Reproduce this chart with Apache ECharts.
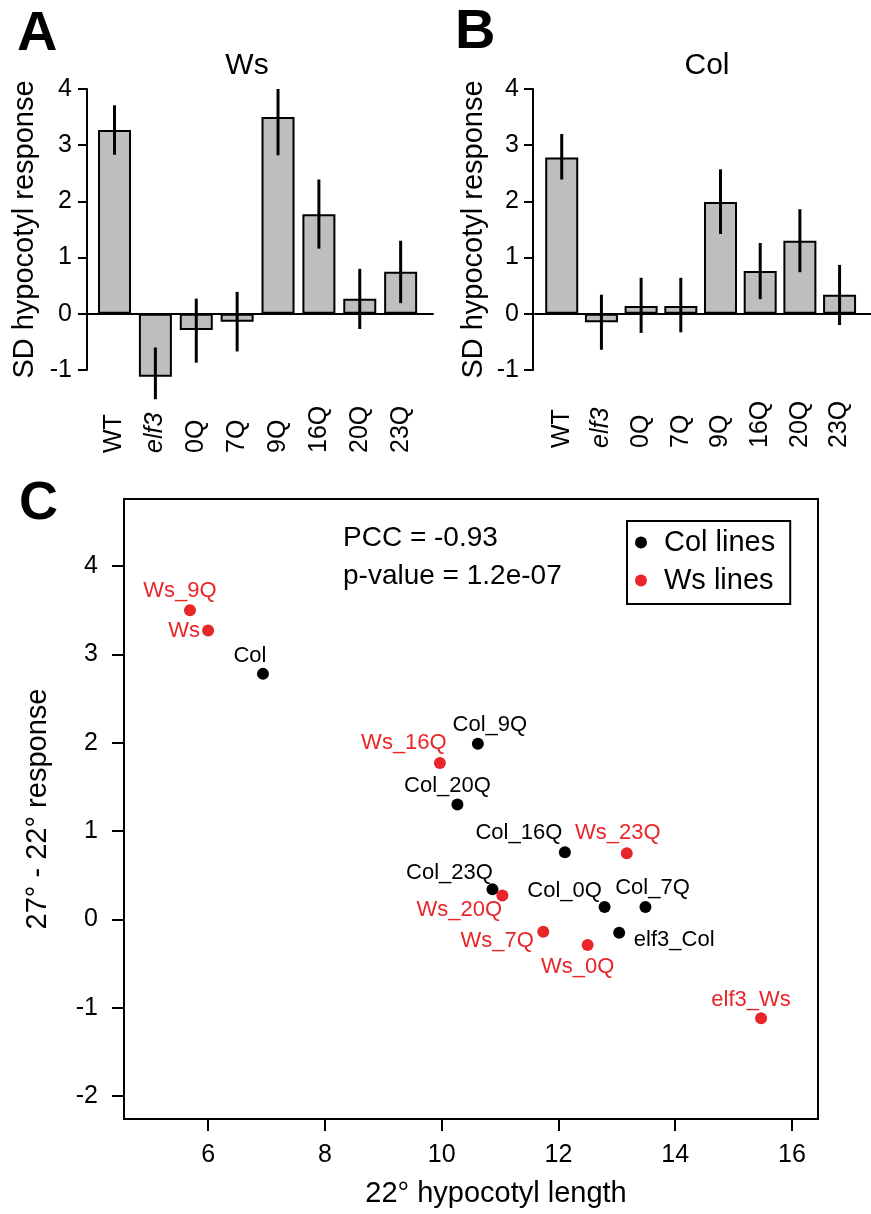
<!DOCTYPE html>
<html>
<head>
<meta charset="utf-8">
<script src="https://cdn.jsdelivr.net/npm/echarts@6/dist/echarts.min.js"></script>
<style>
html,body{margin:0;padding:0;background:#fff;}
#chart{width:871px;height:1214px;}
</style>
</head>
<body>
<div id="chart"></div>
<script>
// ---------- data ----------
const barCategories = ['WT', 'elf3', '0Q', '7Q', '9Q', '16Q', '20Q', '23Q'];
const yTicks = [-1, 0, 1, 2, 3, 4];

const wsResponse = [3.27, -1.12, -0.29, -0.14, 3.50, 1.77, 0.27, 0.75];
const wsErrLow   = [2.83, -1.52, -0.87, -0.67, 2.82, 1.16, -0.27, 0.19];
const wsErrHigh  = [3.71, -0.60, 0.27, 0.39, 4.00, 2.39, 0.80, 1.30];

const colResponse = [2.78, -0.15, 0.14, 0.14, 1.99, 0.76, 1.30, 0.34];
const colErrLow   = [2.39, -0.64, -0.34, -0.33, 1.42, 0.26, 0.74, -0.20];
const colErrHigh  = [3.20, 0.34, 0.64, 0.64, 2.57, 1.26, 1.86, 0.87];

const colLineNames = ['Col', 'Col_9Q', 'Col_20Q', 'Col_16Q', 'Col_23Q', 'Col_0Q', 'Col_7Q', 'elf3_Col'];
const colLength    = [6.94, 10.62, 10.27, 12.11, 10.87, 12.79, 13.49, 13.04];
const colResp      = [2.78, 1.99, 1.30, 0.76, 0.34, 0.14, 0.14, -0.15];

const wsLineNames = ['Ws', 'Ws_9Q', 'Ws_16Q', 'Ws_23Q', 'Ws_20Q', 'Ws_7Q', 'Ws_0Q', 'elf3_Ws'];
const wsLength    = [6.00, 5.69, 9.97, 13.17, 11.04, 11.74, 12.50, 15.47];
const wsResp      = [3.27, 3.50, 1.77, 0.75, 0.27, -0.14, -0.29, -1.12];

const scatterXTicks = [6, 8, 10, 12, 14, 16];
const scatterYTicks = [-2, -1, 0, 1, 2, 3, 4];

// ---------- styling / layout ----------
const FONT = '"Liberation Sans", Arial, Helvetica, sans-serif';
const RED = '#E8262A';
// label placement for the scatter point labels (pixel offsets)
const labelOffsets = {
  'Col': [-13, -18], 'Col_9Q': [12, -19], 'Col_20Q': [-10, -19], 'Col_16Q': [-46, -19],
  'Col_23Q': [-43, -16], 'Col_0Q': [-40, -16], 'Col_7Q': [7, -19], 'elf3_Col': [55, 7],
  'Ws': [-24, 0], 'Ws_9Q': [-10, -19], 'Ws_16Q': [-36, -20], 'Ws_23Q': [-9, -20],
  'Ws_20Q': [-43, 14], 'Ws_7Q': [-46, 9], 'Ws_0Q': [-10, 22], 'elf3_Ws': [-10, -18]
};
// bar slot centres along the hidden value axis (R barplot style: width 1, space 0.2)
const slot = i => 0.7 + 1.2 * i;
const slotMin = -0.108, slotMax = 10.05;

function barLabelFormatter(v) {
  const i = Math.round((v - 0.7) / 1.2);
  const c = barCategories[i];
  return c === 'elf3' ? '{it|elf3}' : c;
}

function barPanel(gridIndex, margin) {
  const axisBase = {
    gridIndex: gridIndex, type: 'value', min: slotMin, max: slotMax,
    splitLine: {show: false}, axisTick: {show: false}
  };
  return [
    Object.assign({}, axisBase, {
      axisLine: {show: true, onZero: true, lineStyle: {color: '#000', width: 2}},
      axisLabel: {show: false}
    }),
    Object.assign({}, axisBase, {
      position: 'bottom',
      axisLine: {show: false, onZero: false},
      axisLabel: {
        show: true, customValues: barCategories.map((c, i) => slot(i)),
        formatter: barLabelFormatter, rotate: 90, align: 'left', verticalAlign: 'middle',
        margin: margin, fontSize: 25, color: '#000', fontFamily: FONT,
        rich: {it: {fontStyle: 'italic', fontSize: 25, color: '#000', fontFamily: FONT}}
      }
    })
  ];
}

function barYAxis(gridIndex, offset, labelMargin, nameGap) {
  return {
    gridIndex: gridIndex, type: 'value', min: -1, max: 4, interval: 1, offset: offset,
    name: 'SD hypocotyl response', nameLocation: 'middle', nameGap: nameGap,
    nameTextStyle: {fontSize: 29, color: '#000', fontFamily: FONT},
    axisLine: {show: true, onZero: false, lineStyle: {color: '#000', width: 2}},
    axisTick: {show: true, length: 9, lineStyle: {color: '#000', width: 2}},
    axisLabel: {fontSize: 25, color: '#000', fontFamily: FONT, margin: labelMargin,
      customValues: yTicks},
    splitLine: {show: false}
  };
}

function errorSeries(xIdx, yIdx, lows, highs) {
  return {
    type: 'custom', xAxisIndex: xIdx, yAxisIndex: yIdx, z: 5, clip: false,
    data: lows.map((lo, i) => [slot(i), lo, highs[i]]),
    encode: {x: 0, y: [1, 2]},
    renderItem: function (params, api) {
      const p1 = api.coord([api.value(0), api.value(1)]);
      const p2 = api.coord([api.value(0), api.value(2)]);
      return {type: 'line', shape: {x1: p1[0], y1: p1[1], x2: p2[0], y2: p2[1]},
        style: {stroke: '#000', lineWidth: 3}};
    }
  };
}

function barSeries(xIdx, yIdx, vals) {
  return {
    type: 'bar', xAxisIndex: xIdx, yAxisIndex: yIdx, barWidth: 33, z: 2, clip: false,
    data: vals.map((v, i) => [slot(i), v]),
    itemStyle: {color: '#BEBEBE', borderColor: '#000', borderWidth: 2}
  };
}

function scatterData(names, xs, ys) {
  return names.map((n, i) => ({
    name: n, value: [xs[i], ys[i]],
    label: {offset: labelOffsets[n] || [0, -18]}
  }));
}

const xAxesA = barPanel(0, 83);
const xAxesB = barPanel(1, 78);

const option = {
  animation: false,
  backgroundColor: '#fff',
  textStyle: {fontFamily: FONT},
  title: [
    {text: 'A', left: 17, top: 7, padding: 0, textStyle: {fontSize: 56, fontWeight: 'bold', color: '#000', fontFamily: FONT, lineHeight: 56}},
    {text: 'B', left: 455, top: 5, padding: 0, textStyle: {fontSize: 56, fontWeight: 'bold', color: '#000', fontFamily: FONT, lineHeight: 56}},
    {text: 'C', left: 19, top: 477, padding: 0, textStyle: {fontSize: 54, fontWeight: 'bold', color: '#000', fontFamily: FONT, lineHeight: 54}},
    {text: 'Ws', left: 247, top: 51, textAlign: 'center', padding: 0, textStyle: {fontSize: 30, fontWeight: 'normal', color: '#000', fontFamily: FONT, lineHeight: 30}},
    {text: 'Col', left: 707, top: 51, textAlign: 'center', padding: 0, textStyle: {fontSize: 30, fontWeight: 'normal', color: '#000', fontFamily: FONT, lineHeight: 30}},
    {text: 'PCC = -0.93\np-value = 1.2e-07', left: 343, top: 519, padding: 0, textStyle: {fontSize: 28, fontWeight: 'normal', color: '#000', fontFamily: FONT, lineHeight: 38}}
  ],
  legend: {
    show: true, orient: 'vertical', left: 627, top: 521,
    padding: [7, 15, 9, 8], itemGap: 9,
    borderColor: '#000', borderWidth: 2, borderRadius: 0,
    icon: 'circle', itemWidth: 12, itemHeight: 12,
    textStyle: {fontSize: 29, color: '#000', fontFamily: FONT, padding: [0, 0, 0, 12]},
    data: ['Col lines', 'Ws lines'],
    selectedMode: false
  },
  grid: [
    {left: 87, top: 89, width: 346, height: 281},
    {left: 535, top: 89, width: 346, height: 281},
    {left: 124, top: 499, width: 694, height: 620, show: true, borderColor: '#000', borderWidth: 2, backgroundColor: 'transparent'}
  ],
  xAxis: [
    xAxesA[0], xAxesA[1], xAxesB[0], xAxesB[1],
    {
      gridIndex: 2, type: 'value', min: 4.56, max: 16.445, position: 'bottom',
      name: '22° hypocotyl length', nameLocation: 'middle', nameGap: 60,
      nameTextStyle: {fontSize: 29, color: '#000', fontFamily: FONT, padding: [0, 0, 0, 50]},
      axisLine: {show: true, onZero: false, lineStyle: {color: '#000', width: 2}},
      axisTick: {show: true, length: 12, customValues: scatterXTicks, lineStyle: {color: '#000', width: 2}},
      axisLabel: {fontSize: 25, color: '#000', fontFamily: FONT, margin: 24, customValues: scatterXTicks},
      splitLine: {show: false}
    }
  ],
  yAxis: [
    barYAxis(0, 0, 15, 48),
    barYAxis(1, 2, 14, 45),
    {
      gridIndex: 2, type: 'value', min: -2.26, max: 4.76, position: 'left',
      name: '27° - 22° response', nameLocation: 'middle', nameGap: 72,
      nameTextStyle: {fontSize: 29, color: '#000', fontFamily: FONT},
      axisLine: {show: true, onZero: false, lineStyle: {color: '#000', width: 2}},
      axisTick: {show: true, length: 12, customValues: scatterYTicks, lineStyle: {color: '#000', width: 2}},
      axisLabel: {fontSize: 25, color: '#000', fontFamily: FONT, margin: 26, customValues: scatterYTicks},
      splitLine: {show: false}
    }
  ],
  series: [
    barSeries(0, 0, wsResponse),
    errorSeries(0, 0, wsErrLow, wsErrHigh),
    barSeries(2, 1, colResponse),
    errorSeries(2, 1, colErrLow, colErrHigh),
    {
      name: 'Col lines', type: 'scatter', xAxisIndex: 4, yAxisIndex: 2,
      symbol: 'circle', symbolSize: 12, itemStyle: {color: '#000', opacity: 1},
      label: {show: true, position: 'inside', formatter: '{b}', fontSize: 22, color: '#000', fontFamily: FONT},
      data: scatterData(colLineNames, colLength, colResp)
    },
    {
      name: 'Ws lines', type: 'scatter', xAxisIndex: 4, yAxisIndex: 2,
      symbol: 'circle', symbolSize: 12, itemStyle: {color: RED, opacity: 1},
      label: {show: true, position: 'inside', formatter: '{b}', fontSize: 22, color: RED, fontFamily: FONT},
      data: scatterData(wsLineNames, wsLength, wsResp)
    }
  ]
};

const chart = echarts.init(document.getElementById('chart'), null, {renderer: 'canvas'});
chart.setOption(option);
</script>
</body>
</html>
